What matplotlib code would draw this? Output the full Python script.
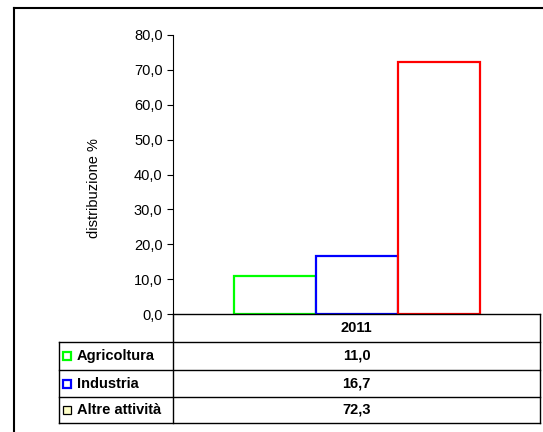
import matplotlib.pyplot as plt
from matplotlib.ticker import FuncFormatter
from matplotlib.lines import Line2D

plt.rcParams['font.family'] = ['Liberation Sans', 'DejaVu Sans']

# data
year = "2011"
categories = ["Agricoltura", "Industria", "Altre attività"]
values = [11.0, 16.7, 72.3]
bar_colors = ["#00FF00", "#0000FF", "#FF0000"]
key_faces = ["white", "white", "#FFFFC8"]
key_edges = ["#00FF00", "#0000FF", "black"]
yticks = [0, 10, 20, 30, 40, 50, 60, 70, 80]

fig = plt.figure(figsize=(5.43, 4.32), dpi=100)
ax = fig.add_axes([173 / 543, 1 - 314 / 432, 367 / 543, 279 / 432])

# outer frame (cut off at right and bottom like the original)
fig.add_artist(Line2D([14 / 543, 14 / 543], [0, 1 - 8 / 432], color="black", lw=1.5, transform=fig.transFigure))
fig.add_artist(Line2D([14 / 543, 1], [1 - 8 / 432, 1 - 8 / 432], color="black", lw=1.5, transform=fig.transFigure))

bw = 82 / 367
for i, (v, c) in enumerate(zip(values, bar_colors)):
    ax.bar((i - 1) * bw, v, width=bw, facecolor="white", edgecolor=c, linewidth=1.6, zorder=2)

ax.set_xlim(-0.5, 0.5)
ax.set_ylim(0, 80)
ax.set_yticks(yticks)
ax.yaxis.set_major_formatter(FuncFormatter(lambda v, p: f"{v:.1f}".replace(".", ",")))
ax.tick_params(axis="y", direction="out", length=4, width=0.8, labelsize=10.5, pad=3.5)
ax.set_xticks([])
for s in ["top", "right"]:
    ax.spines[s].set_visible(False)
ax.spines["left"].set_linewidth(0.8)
ax.spines["bottom"].set_linewidth(1.0)

ax.set_ylabel("distribuzione %", fontsize=10.5)
ax.yaxis.set_label_coords(-0.195, 0.452)

# data table below the axis
row_edges = [0, -28 / 279, -56 / 279, -83 / 279, -109 / 279]
left_col = -114 / 367
kw = dict(transform=ax.transAxes, clip_on=False, color="black", lw=1.0)
ax.plot([0, 0], [0, row_edges[-1]], **kw)
ax.plot([1, 1], [0, row_edges[-1]], **kw)
ax.plot([left_col, left_col], [row_edges[1], row_edges[-1]], **kw)
for y in row_edges[1:]:
    ax.plot([left_col, 1], [y, y], **kw)

ax.text(0.5, (row_edges[0] + row_edges[1]) / 2, year, transform=ax.transAxes,
        ha="center", va="center", fontsize=10.5, fontweight="bold")
for i, (cat, v) in enumerate(zip(categories, values)):
    yc = (row_edges[i + 1] + row_edges[i + 2]) / 2
    ax.plot([-106 / 367], [yc], marker="s", markersize=6, markerfacecolor=key_faces[i],
            markeredgecolor=key_edges[i], markeredgewidth=1.6 if i < 2 else 0.9,
            transform=ax.transAxes, clip_on=False)
    ax.text(-96 / 367, yc, cat, transform=ax.transAxes, ha="left", va="center",
            fontsize=10.5, fontweight="bold")
    ax.text(0.5, yc, f"{v:.1f}".replace(".", ","), transform=ax.transAxes,
            ha="center", va="center", fontsize=10.5, fontweight="bold")

fig.savefig("out.png", dpi=100)
